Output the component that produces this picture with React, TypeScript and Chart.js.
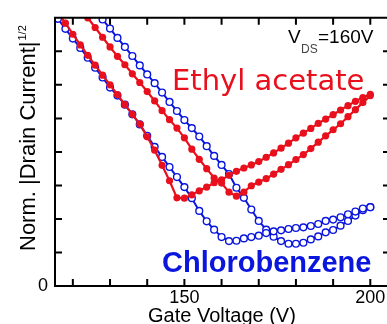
import React, { useEffect, useRef } from "react";
import { Chart, registerables } from "chart.js";

Chart.register(...registerables);

// Gate voltage sweep points (V)
const GATE_V = [
  114, 116, 118, 120, 122, 124, 126, 128, 130, 132, 134, 136, 138, 140, 142,
  144, 146, 148, 150, 152, 154, 156, 158, 160, 162, 164, 166, 168, 170, 172,
  174, 176, 178, 180, 182, 184, 186, 188, 190, 192, 194, 196, 198, 200,
];

// Ethyl acetate, sweep A
const ETHYL_A = [
  8.45, 8.15, 7.84, 7.51, 7.19, 6.88, 6.59, 6.29, 6.0, 5.71, 5.41, 5.12, 4.83,
  4.45, 4.05, 3.6, 3.14, 2.63, 2.62, 2.72, 2.84, 2.95, 3.08, 3.17, 3.3, 3.42,
  3.52, 3.61, 3.71, 3.84, 3.97, 4.11, 4.26, 4.42, 4.56, 4.7, 4.85, 4.98, 5.11,
  5.25, 5.38, 5.51, 5.62, 5.72,
];

// Ethyl acetate, sweep B
const ETHYL_B = [
  9.5, 9.2, 8.9, 8.58, 8.28, 8.0, 7.71, 7.42, 7.13, 6.85, 6.6, 6.33, 6.07, 5.8,
  5.52, 5.23, 4.96, 4.71, 4.42, 4.08, 3.78, 3.5, 3.22, 3.07, 2.8, 2.68, 2.8,
  2.99, 3.1, 3.2, 3.34, 3.48, 3.62, 3.77, 3.92, 4.1, 4.29, 4.48, 4.66, 4.84,
  5.05, 5.26, 5.47, 5.68,
];

// Chlorobenzene, sweep A
const CHLORO_A = [
  8.26, 7.97, 7.67, 7.38, 7.1, 6.81, 6.51, 6.22, 5.92, 5.68, 5.41, 5.12, 4.82,
  4.48, 4.15, 3.85, 3.55, 3.25, 2.95, 2.62, 2.24, 1.93, 1.68, 1.46, 1.34, 1.35,
  1.42, 1.46, 1.5, 1.58, 1.63, 1.66, 1.7, 1.73, 1.75, 1.79, 1.85, 1.94, 1.98,
  2.05, 2.14, 2.22, 2.31, 2.35,
];

// Chlorobenzene, sweep B
const CHLORO_B = [
  9.85, 9.58, 9.31, 9.04, 8.77, 8.5, 8.22, 7.95, 7.68, 7.4, 7.13, 6.86, 6.58,
  6.31, 6.05, 5.77, 5.49, 5.22, 4.95, 4.71, 4.46, 4.17, 3.88, 3.61, 3.34, 2.93,
  2.63, 2.28, 1.94, 1.68, 1.47, 1.34, 1.26, 1.26, 1.29, 1.39, 1.48, 1.6, 1.67,
  1.8, 1.94, 2.1, 2.26, 2.35,
];

const X_TICKS = [120, 130, 140, 150, 160, 170, 180, 190, 200];
const X_LABELED = [150, 200];
const Y_TICKS = [1, 2, 3, 4, 5, 6, 7];
const Y_LABELED = [0];

const RED = "#e8101c";
const BLUE = "#0a16dc";

const toPoints = (ys: number[]) => GATE_V.map((x, i) => ({ x, y: ys[i] }));

const framePlugin = {
  id: "frameAndText",
  afterDatasetsDraw(chart: any) {
    const { ctx, chartArea, scales } = chart;
    const { left, right, top, bottom } = chartArea;
    const xs = scales.x;
    const ys = scales.y;
    const tl = 7;
    ctx.save();
    ctx.strokeStyle = "#000";
    ctx.lineWidth = 2;
    ctx.beginPath();
    ctx.rect(left, top, right - left, bottom - top);
    ctx.stroke();
    ctx.beginPath();
    X_TICKS.forEach((v) => {
      const px = xs.getPixelForValue(v);
      ctx.moveTo(px, bottom);
      ctx.lineTo(px, bottom - tl);
      ctx.moveTo(px, top);
      ctx.lineTo(px, top + tl);
    });
    Y_TICKS.forEach((v) => {
      const py = ys.getPixelForValue(v);
      ctx.moveTo(left, py);
      ctx.lineTo(left + tl, py);
      ctx.moveTo(right, py);
      ctx.lineTo(right - tl, py);
    });
    ctx.stroke();

    // annotations
    ctx.textBaseline = "alphabetic";
    ctx.textAlign = "left";
    ctx.fillStyle = RED;
    ctx.font = "29px 'DejaVu Sans'";
    ctx.fillText("Ethyl acetate", 172, 90);

    ctx.fillStyle = BLUE;
    ctx.font = "bold 29px 'Liberation Sans'";
    ctx.fillText("Chlorobenzene", 162, 272);

    ctx.fillStyle = "#000";
    ctx.font = "19px 'Liberation Sans'";
    ctx.fillText("V", 288, 43);
    ctx.fillStyle = "#444";
    ctx.font = "12px 'Liberation Sans'";
    ctx.fillText("DS", 301, 53);
    ctx.fillStyle = "#000";
    ctx.font = "19px 'Liberation Sans'";
    ctx.fillText("=160V", 318, 43);

    // axis titles
    ctx.font = "20px 'Liberation Sans'";
    ctx.fillText("Gate Voltage (V)", 148, 322);

    ctx.translate(35, 251);
    ctx.rotate(-Math.PI / 2);
    ctx.font = "22px 'Liberation Sans'";
    const main = "Norm. |Drain Current|";
    ctx.fillText(main, 0, 0);
    const w = ctx.measureText(main).width;
    ctx.font = "11px 'Liberation Sans'";
    ctx.fillText("1/2", w + 1, -9);
    ctx.restore();
  },
};

export default function App() {
  const ref = useRef<HTMLCanvasElement | null>(null);
  useEffect(() => {
    if (!ref.current) return;
    const redSet = (ys: number[]) => ({
      data: toPoints(ys),
      borderColor: RED,
      backgroundColor: RED,
      borderWidth: 2.2,
      pointRadius: 3.6,
      pointBorderWidth: 0,
      pointBackgroundColor: RED,
      showLine: true,
    });
    const blueSet = (ys: number[]) => ({
      data: toPoints(ys),
      borderColor: BLUE,
      backgroundColor: "#fff",
      borderWidth: 2,
      pointRadius: 3.4,
      pointBorderWidth: 1.4,
      pointBorderColor: BLUE,
      pointBackgroundColor: "#fff",
      showLine: true,
    });
    const chart = new Chart(ref.current, {
      type: "scatter",
      data: {
        datasets: [
          redSet(ETHYL_A),
          redSet(ETHYL_B),
          blueSet(CHLORO_A),
          blueSet(CHLORO_B),
        ] as any,
      },
      options: {
        animation: false,
        responsive: false,
        devicePixelRatio: 1,
        layout: { padding: { left: 0, top: 14, right: 10, bottom: 0 } },
        plugins: {
          legend: { display: false },
          tooltip: { enabled: false },
        },
        scales: {
          x: {
            type: "linear",
            min: 115.2,
            max: 205.3,
            grid: { display: false, drawTicks: false },
            border: { display: false },
            afterBuildTicks: (s: any) => {
              s.ticks = X_TICKS.map((v) => ({ value: v }));
            },
            afterFit: (s: any) => {
              s.height = 38;
            },
            ticks: {
              padding: 1,
              autoSkip: false,
              maxRotation: 0,
              color: "#000",
              font: { family: "'Liberation Sans'", size: 18 },
              callback: (v: any) => (X_LABELED.includes(Number(v)) ? String(v) : ""),
            },
          },
          y: {
            type: "linear",
            min: 0,
            max: 8,
            grid: { display: false, drawTicks: false },
            border: { display: false },
            afterBuildTicks: (s: any) => {
              s.ticks = [0, ...Y_TICKS, 8].map((v) => ({ value: v }));
            },
            afterFit: (s: any) => {
              s.width = 55;
            },
            ticks: {
              padding: 7,
              autoSkip: false,
              color: "#000",
              font: { family: "'Liberation Sans'", size: 18 },
              callback: (v: any) => (Y_LABELED.includes(Number(v)) ? String(v) : ""),
            },
          },
        },
      },
      plugins: [framePlugin],
    });
    return () => chart.destroy();
  }, []);
  return (
    <div
      style={{
        position: "fixed",
        left: 0,
        top: 0,
        width: 387,
        height: 324,
        overflow: "hidden",
        background: "#fff",
      }}
    >
      <canvas ref={ref} width={400} height={324} style={{ display: "block" }} />
    </div>
  );
}
